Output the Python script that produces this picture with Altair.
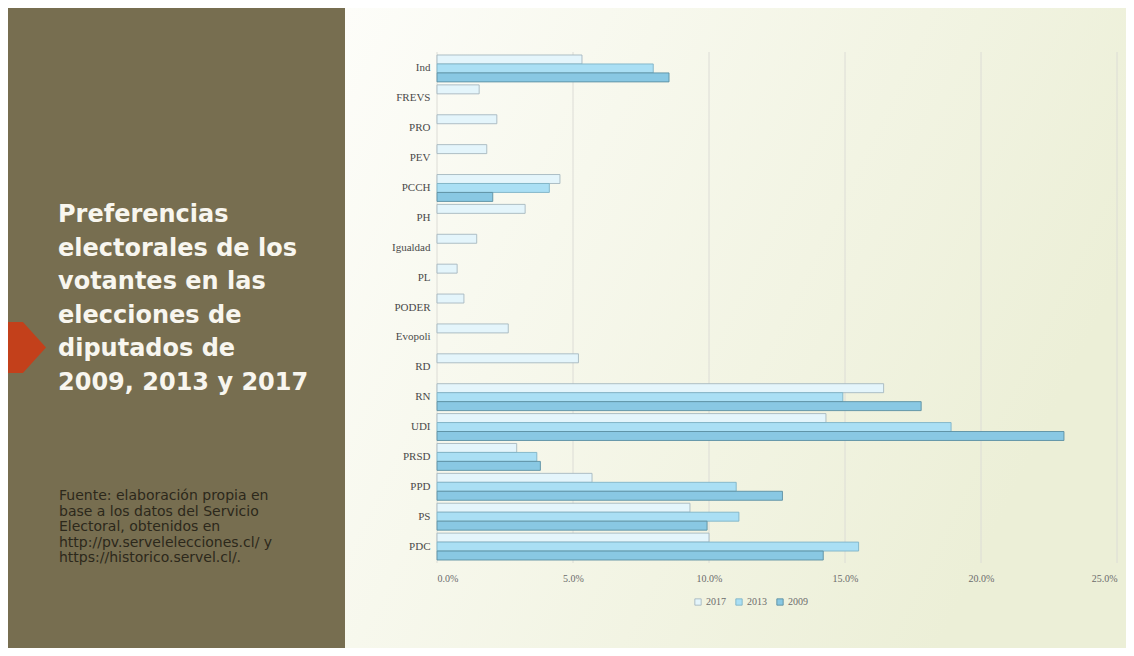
import altair as alt
import pandas as pd

# ---------------- data ----------------
parties = ["Ind", "FREVS", "PRO", "PEV", "PCCH", "PH", "Igualdad", "PL", "PODER",
           "Evopoli", "RD", "RN", "UDI", "PRSD", "PPD", "PS", "PDC"]
v2017 = [5.33, 1.55, 2.20, 1.83, 4.52, 3.24, 1.46, 0.74, 0.99,
         2.62, 5.20, 16.42, 14.30, 2.93, 5.70, 9.30, 10.00]
v2013 = [7.95, None, None, None, 4.13, None, None, None, None,
         None, None, 14.92, 18.90, 3.67, 11.00, 11.10, 15.50]
v2009 = [8.53, None, None, None, 2.05, None, None, None, None,
         None, None, 17.80, 23.05, 3.80, 12.70, 9.93, 14.20]
years = ["2017", "2013", "2009"]
x_ticks = [0.0, 0.05, 0.10, 0.15, 0.20, 0.25]

title_lines = ["Preferencias", "electorales de los", "votantes en las",
               "elecciones de", "diputados de", "2009, 2013 y 2017"]
source_lines = ["Fuente: elaboración propia en",
                "base a los datos del Servicio",
                "Electoral, obtenidos  en",
                "http://pv.servelelecciones.cl/ y",
                "https://historico.servel.cl/."]

rows = []
for yr, vals in zip(years, [v2017, v2013, v2009]):
    for p, v in zip(parties, vals):
        if v is not None:
            rows.append({"partido": p, "anio": yr, "valor": v / 100.0})
df = pd.DataFrame(rows)
ticks_df = pd.DataFrame({"tick": x_ticks})

W, H = 680, 511
one = alt.Data(values=[{}])

x_scale = alt.Scale(domain=[0, 0.25], nice=False, zero=True)
x_axis = alt.Axis(format=".1%", values=x_ticks, grid=False, domain=False, ticks=False,
                  labelFont="Liberation Serif", labelFontSize=10, labelColor="#6b6b6b",
                  labelPadding=10, title=None, zindex=1)

# ---------------- slide decoration ----------------
left_panel = alt.Chart(one).mark_rect(color="#776e50").encode(
    x=alt.value(-429), x2=alt.value(-92), y=alt.value(-44), y2=alt.value(596))

grad = alt.Gradient(gradient="linear", x1=0, y1=0, x2=1, y2=0.4,
                    stops=[alt.GradientStop(offset=0, color="#fdfdf9"),
                           alt.GradientStop(offset=1, color="#ecefd7")])
right_panel = alt.Chart(one).mark_rect(fill=grad).encode(
    x=alt.value(-92), x2=alt.value(689), y=alt.value(-44), y2=alt.value(596))

arrow = alt.Chart(one).mark_point(
    shape="M -0.745 -1 L -0.16 -1 L 0.745 0 L -0.16 1 L -0.745 1 Z",
    filled=True, fill="#c3401b", stroke=None, opacity=1, size=2601).encode(
    x=alt.value(-410), y=alt.value(295.5))

title_txt = alt.Chart(one).mark_text(
    align="left", baseline="alphabetic", font="DejaVu Sans", fontWeight="bold",
    fontSize=24, color="#f8f6ef", lineHeight=33.5).encode(
    x=alt.value(-379), y=alt.value(170), text=alt.value(title_lines))

source_txt = alt.Chart(one).mark_text(
    align="left", baseline="alphabetic", font="DejaVu Sans",
    fontSize=14, color="#2c281b", lineHeight=15.6).encode(
    x=alt.value(-378), y=alt.value(448), text=alt.value(source_lines))

# ---------------- chart ----------------
grid = alt.Chart(ticks_df).mark_rule(color="#dcdcd6", strokeWidth=1).encode(
    x=alt.X("tick:Q", scale=x_scale, axis=x_axis))

legend = alt.Legend(title=None, orient="none", legendX=256, legendY=545,
                    direction="horizontal", symbolType="square",
                    symbolSize=40, symbolStrokeWidth=0.9, labelFont="Liberation Serif",
                    labelFontSize=10, labelColor="#6b6b6b",
                    columnPadding=8, labelOffset=3)

bars = alt.Chart(df).mark_bar(strokeWidth=0.9).encode(
    y=alt.Y("partido:N", sort=parties,
            scale=alt.Scale(paddingInner=0.1, paddingOuter=0.1),
            axis=alt.Axis(title=None, domain=False, ticks=False, grid=False,
                          labelFont="Liberation Serif", labelFontSize=11,
                          labelColor="#4a4a4a", labelPadding=7, zindex=1)),
    yOffset=alt.YOffset("anio:N", sort=years, scale=alt.Scale(paddingInner=0, paddingOuter=0)),
    x=alt.X("valor:Q", scale=x_scale, axis=x_axis),
    color=alt.Color("anio:N", sort=years,
                    scale=alt.Scale(domain=years, range=["#e4f5fb", "#aadff4", "#89c8e3"]),
                    legend=legend),
    stroke=alt.Stroke("anio:N", sort=years,
                      scale=alt.Scale(domain=years, range=["#a6b8c0", "#7fb3c6", "#5b8fa2"]),
                      legend=legend),
)

chart = alt.layer(left_panel, right_panel, arrow, title_txt, source_txt, grid, bars).properties(
    width=W, height=H, padding=0, background="white"
).configure_view(stroke=None)

chart.save("out.html", embed_options={"renderer": "svg", "actions": False})
